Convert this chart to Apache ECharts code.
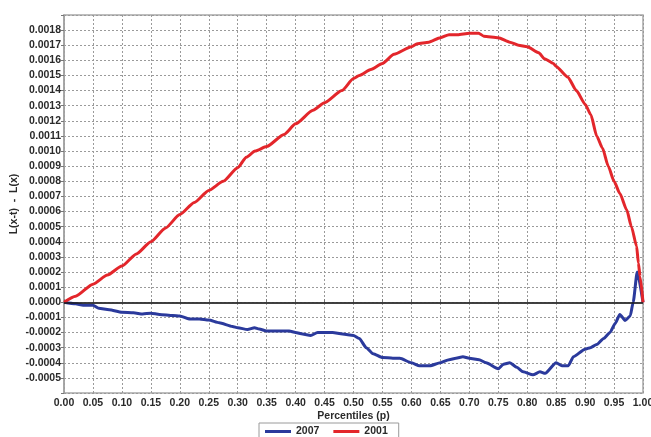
<!DOCTYPE html>
<html>
<head>
<meta charset="utf-8">
<script src="https://cdn.jsdelivr.net/npm/echarts@6/dist/echarts.min.js"></script>
<style>
  html, body { margin: 0; padding: 0; background: #fff; }
  #chart { width: 651px; height: 437px; }
</style>
</head>
<body>
<div id="chart"></div>
<script>
// Percentile positions and curve values, one pair of arrays per year
const p2007 = [0, 0.02, 0.033, 0.05, 0.06, 0.078, 0.10, 0.12, 0.136, 0.15, 0.165, 0.188, 0.20, 0.216, 0.234, 0.25,
  0.268, 0.291, 0.30, 0.317, 0.329, 0.337, 0.35, 0.372, 0.389, 0.40, 0.412, 0.426, 0.438, 0.45, 0.464, 0.481,
  0.50, 0.51, 0.522, 0.534, 0.55, 0.568, 0.58, 0.60, 0.614, 0.632, 0.65, 0.665, 0.677, 0.689, 0.70, 0.717,
  0.729, 0.75, 0.759, 0.77, 0.782, 0.793, 0.81, 0.822, 0.831, 0.85, 0.86, 0.871, 0.88, 0.90, 0.909, 0.92,
  0.932, 0.943, 0.952, 0.96, 0.969, 0.978, 0.983, 0.99, 1.0];
const v2007 = [0, -0.00001, -0.00002, -0.00002, -0.00004, -0.00005, -0.000066, -0.00007, -0.000077, -0.000072,
  -0.00008, -0.000087, -0.00009, -0.00011, -0.00011, -0.000117, -0.000135, -0.00016, -0.000168, -0.00018,
  -0.000168, -0.000177, -0.00019, -0.00019, -0.00019, -0.0002, -0.00021, -0.00022, -0.0002, -0.0002, -0.0002,
  -0.00021, -0.00022, -0.00024, -0.0003, -0.00034, -0.000365, -0.00037, -0.00037, -0.0004, -0.00042, -0.00042,
  -0.0004, -0.00038, -0.00037, -0.00036, -0.00037, -0.00038, -0.0004, -0.00044, -0.00041, -0.0004, -0.00043,
  -0.00046, -0.00048, -0.00046, -0.00047, -0.0004, -0.00042, -0.00042, -0.00036, -0.00031, -0.0003, -0.00028,
  -0.00024, -0.0002, -0.00014, -0.00008, -0.00012, -0.00009, 0, 0.0002, 0];

const p2001 = [0, 0.02, 0.05, 0.075, 0.10, 0.125, 0.15, 0.175, 0.20, 0.225, 0.25, 0.275, 0.30, 0.315, 0.33, 0.35,
  0.38, 0.40, 0.43, 0.45, 0.48, 0.50, 0.51, 0.53, 0.55, 0.57, 0.60, 0.61, 0.63, 0.65, 0.665, 0.68, 0.70, 0.716,
  0.725, 0.75, 0.77, 0.785, 0.80, 0.82, 0.83, 0.845, 0.85, 0.87, 0.885, 0.90, 0.91, 0.92, 0.93, 0.94, 0.95,
  0.96, 0.972, 0.98, 0.989, 0.992, 0.995, 1.0];
const v2001 = [0, 0.00004, 0.00012, 0.00018, 0.00024, 0.00032, 0.0004, 0.00049, 0.00058, 0.00066, 0.00074,
  0.0008, 0.00089, 0.00096, 0.001, 0.00103, 0.00111, 0.00118, 0.00127, 0.00132, 0.0014, 0.00148, 0.0015,
  0.00154, 0.00158, 0.00164, 0.00169, 0.00171, 0.00172, 0.00175, 0.00177, 0.00177, 0.00178, 0.00178, 0.00176,
  0.00175, 0.00172, 0.0017, 0.00169, 0.00165, 0.00161, 0.00158, 0.00156, 0.00149, 0.0014, 0.00131, 0.00124,
  0.0011, 0.00102, 0.0009, 0.0008, 0.00072, 0.00061, 0.0005, 0.00037, 0.00026, 0.00017, 0];

const seriesNames = ['2007', '2001'];
const xTitle = 'Percentiles (p)';
const yTitle = 'L(x-t)  -  L(x)';

const pairs = (ps, vs) => ps.map((p, i) => [p, vs[i]]);

const labelFont = { fontFamily: 'Liberation Sans, Arial, sans-serif', fontWeight: 'bold', fontSize: 10.5, color: '#2a2a2a' };
const gridLine = { show: true, lineStyle: { color: '#9a9a9a', type: [2, 2], width: 1 } };

const chart = echarts.init(document.getElementById('chart'), null, { renderer: 'canvas' });
chart.setOption({
  animation: false,
  backgroundColor: '#ffffff',
  grid: {
    left: 64, right: 8, top: 15, bottom: 44,
    outerBoundsMode: 'none', containLabel: false,
    show: true, borderColor: '#a8a8a8', borderWidth: 1.5
  },
  legend: {
    data: seriesNames,
    left: 259, top: 423,
    padding: [3, 11, 10, 6],
    borderColor: '#9a9a9a', borderWidth: 1,
    icon: 'rect', itemWidth: 26, itemHeight: 3, itemGap: 14,
    textStyle: labelFont
  },
  xAxis: {
    type: 'value', min: 0, max: 1, interval: 0.05,
    name: xTitle, nameLocation: 'middle', nameGap: 18, nameMoveOverlap: false,
    nameTextStyle: labelFont,
    axisLine: { show: true, lineStyle: { color: '#a0a0a0', width: 1.5 } },
    axisTick: { show: true, inside: true, length: 3, lineStyle: { color: '#777' } },
    axisLabel: Object.assign({ margin: 5, formatter: v => v.toFixed(2) }, labelFont),
    splitLine: gridLine
  },
  yAxis: {
    type: 'value', min: -0.0006, max: 0.0019, interval: 0.0001,
    name: yTitle, nameLocation: 'middle', nameGap: 44, nameRotate: 90, nameMoveOverlap: false,
    nameTextStyle: labelFont,
    axisLine: { show: true, lineStyle: { color: '#a0a0a0', width: 1.5 } },
    axisTick: { show: true, length: 3, lineStyle: { color: '#777' } },
    axisLabel: Object.assign({
      margin: 3,
      formatter: v => (v < -0.00055 || v > 0.00185) ? '' : (Math.abs(v) < 1e-9 ? '0.0000' : v.toFixed(4))
    }, labelFont),
    splitLine: gridLine
  },
  series: [
    {
      name: seriesNames[0], type: 'line', data: pairs(p2007, v2007),
      showSymbol: false, smooth: 0.2, smoothMonotone: 'x',
      lineStyle: { color: '#2b3a9c', width: 3 }, itemStyle: { color: '#2b3a9c' },
      markLine: {
        silent: true, symbol: 'none', label: { show: false },
        lineStyle: { color: '#1a1a1a', width: 1.5, type: 'solid' },
        data: [{ yAxis: 0 }]
      }
    },
    {
      name: seriesNames[1], type: 'line', data: pairs(p2001, v2001),
      showSymbol: false, smooth: 0.2, smoothMonotone: 'x',
      lineStyle: { color: '#e3262b', width: 3 }, itemStyle: { color: '#e3262b' }
    }
  ]
});
</script>
</body>
</html>
